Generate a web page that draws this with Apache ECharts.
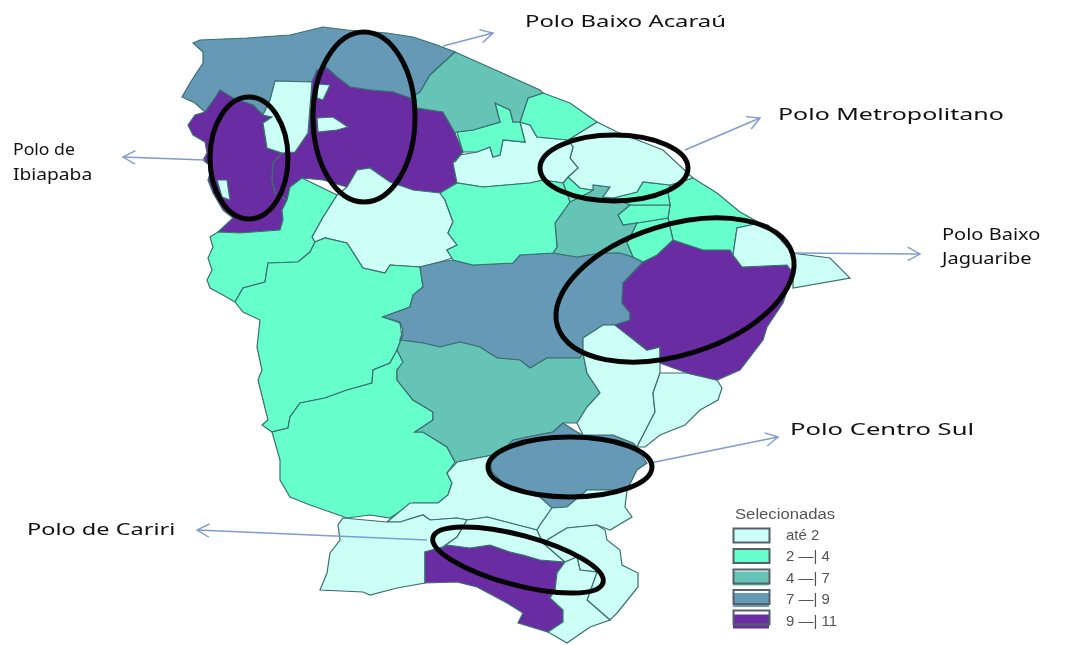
<!DOCTYPE html>
<html><head><meta charset="utf-8">
<style>html,body{margin:0;padding:0;background:#fff}#c{width:1065px;height:645px}#c canvas{filter:blur(.5px)}</style>
<script src="https://cdn.jsdelivr.net/npm/echarts@6/dist/echarts.min.js"></script>
</head><body><div id="c"></div>
<script>
// Data: class value per region
const regionNames = ['Litoral Norte','Ibiapaba','Sobral','Ipu','Ponto A','Ponto B','Ponto C','Sertao Norte','Crateus Norte','Crateus','Inhamuns','Sertao Central','Sertao Sul','Centro Sul','Iguatu','Jaguaribe Sul','Russas Sul','Jaguaribe','Aracati Norte','Aracati','Cascavel','Pacajus','Horizonte','Baturite','Sliver','Metropolitana','Itapipoca','Acarau Leste','Uruburetama','Litoral Oeste','Cariri Oeste','Cariri','Crato','Salgado','Barbalha','Brejo Santo','Caninde'];
const regionValues = [8,10,10,1,1,1,1,1,3,3,3,8,6,8,1,1,1,10,3,1,3,3,3,6,3,1,1,3,3,6,1,10,1,1,1,1,3];
const classLabels = ['até 2','2 —| 4','4 —| 7','7 —| 9','9 —| 11'];
const classBreaks = [2,4,7,9,11];
const classColors = ['#ccfff5','#66ffcc','#66c4b6','#6699b5','#6a2ca3'];
const regionOutlines = [
[[193,43],[200,40],[247,38],[290,35],[323,27],[347,30],[387,33],[413,37],[437,45],[455,52],[430,75],[420,92],[410,98],[393,92],[370,90],[350,87],[337,77],[327,68],[317,70],[312,82],[275,81],[270,100],[263,115],[253,105],[233,98],[220,90],[215,98],[205,112],[195,103],[182,97],[190,83],[203,63],[203,52]],
[[220,90],[215,98],[205,112],[195,115],[188,125],[193,135],[205,142],[207,153],[203,160],[212,167],[208,180],[213,193],[223,210],[233,218],[218,232],[240,233],[280,230],[283,220],[282,210],[287,200],[275,193],[272,180],[273,163],[282,153],[267,148],[263,123],[272,117],[263,115],[253,105],[233,98]],
[[327,68],[337,77],[350,87],[370,90],[393,92],[410,98],[417,108],[443,112],[455,133],[463,152],[453,163],[457,183],[440,193],[413,190],[390,182],[370,168],[357,170],[347,187],[323,180],[302,178],[290,187],[287,200],[275,193],[272,180],[273,163],[282,153],[295,152],[308,133],[312,82],[317,70]],
[[275,81],[312,82],[308,133],[295,152],[282,153],[267,148],[263,123],[272,117],[263,115],[270,100]],
[[318,84],[330,85],[323,100],[317,98]],
[[317,118],[333,117],[348,127],[337,130],[318,132]],
[[217,180],[227,180],[230,200],[222,197]],
[[347,187],[357,170],[370,168],[390,182],[413,190],[440,193],[445,200],[453,222],[448,233],[457,245],[447,250],[452,258],[440,262],[420,267],[390,265],[385,273],[363,268],[347,243],[325,238],[315,242],[312,237],[323,217],[337,195]],
[[218,232],[240,233],[280,230],[283,220],[282,210],[287,200],[290,187],[302,178],[337,195],[323,217],[312,237],[315,242],[310,252],[298,262],[268,263],[265,282],[243,288],[235,302],[223,295],[210,288],[207,280],[212,270],[208,258],[213,247],[210,237]],
[[268,263],[298,262],[310,252],[315,242],[325,238],[347,243],[363,268],[385,273],[390,265],[420,267],[422,280],[423,287],[413,295],[410,307],[383,317],[400,323],[402,337],[397,350],[390,363],[373,370],[372,383],[347,390],[325,398],[300,403],[290,417],[288,428],[272,432],[262,425],[268,420],[258,380],[262,370],[257,347],[260,320],[243,312],[235,302],[243,288],[265,282]],
[[397,350],[403,362],[397,370],[397,380],[413,400],[433,412],[433,420],[415,432],[423,432],[447,447],[455,462],[447,473],[452,483],[448,495],[438,503],[413,503],[390,518],[370,515],[347,518],[333,513],[310,505],[290,497],[280,480],[280,460],[272,432],[288,428],[290,417],[300,403],[325,398],[347,390],[372,383],[373,370],[390,363]],
[[420,267],[440,262],[453,260],[473,265],[513,263],[520,255],[553,253],[577,257],[600,253],[620,253],[633,257],[643,262],[623,283],[622,303],[630,313],[630,320],[615,325],[603,325],[583,338],[583,353],[580,358],[547,358],[530,368],[520,360],[497,358],[480,347],[460,342],[440,347],[423,343],[400,340],[403,330],[400,322],[383,317],[410,307],[413,295],[423,287],[422,280]],
[[400,340],[423,343],[440,347],[460,342],[480,347],[497,358],[520,360],[530,368],[547,358],[580,358],[583,353],[587,373],[600,393],[587,407],[577,423],[563,423],[553,432],[527,437],[493,455],[457,462],[455,462],[447,447],[423,432],[415,432],[433,420],[433,412],[413,400],[397,380],[397,370],[403,362],[397,350],[402,337]],
[[553,432],[563,423],[577,432],[583,435],[613,435],[633,443],[647,463],[637,470],[627,490],[587,490],[567,507],[552,508],[540,497],[510,490],[493,477],[490,463],[513,440],[527,437]],
[[457,462],[493,455],[490,470],[510,490],[540,497],[552,508],[540,525],[537,530],[487,517],[467,520],[457,518],[430,520],[423,515],[400,522],[387,522],[410,503],[438,503],[448,495],[452,483],[447,473]],
[[583,338],[603,325],[615,325],[647,350],[660,347],[660,373],[653,393],[655,412],[637,447],[633,443],[613,435],[583,435],[577,423],[587,407],[600,393],[587,373],[583,353]],
[[660,373],[687,373],[717,380],[722,388],[718,400],[700,410],[685,425],[660,435],[645,447],[637,447],[655,412],[653,393]],
[[673,240],[703,250],[730,250],[733,255],[742,267],[787,265],[793,273],[783,303],[767,327],[763,340],[740,370],[717,380],[687,373],[660,363],[660,347],[647,350],[615,325],[630,320],[630,313],[622,303],[623,283],[643,262],[657,255]],
[[693,178],[717,193],[740,212],[760,223],[737,228],[733,255],[730,250],[703,250],[673,240],[670,227],[668,218],[670,205],[668,193],[670,185]],
[[760,223],[768,225],[792,253],[830,258],[850,278],[793,288],[793,273],[787,265],[742,267],[733,255],[737,228]],
[[627,243],[637,223],[668,218],[670,227],[673,240],[657,255],[643,262],[633,257]],
[[618,215],[630,205],[670,205],[668,218],[637,223],[623,225]],
[[643,182],[670,185],[668,193],[670,205],[630,205],[613,198],[637,192]],
[[570,202],[590,192],[593,185],[610,187],[603,197],[613,198],[630,205],[618,215],[623,225],[637,223],[627,243],[633,257],[620,253],[600,253],[577,257],[553,253],[557,247],[555,223]],
[[563,183],[568,177],[580,188],[593,190],[590,192],[570,202]],
[[610,187],[593,185],[593,190],[580,188],[568,177],[578,168],[570,158],[573,147],[568,140],[597,122],[617,132],[663,150],[693,178],[670,185],[643,182],[637,192],[613,198],[603,197]],
[[455,162],[460,155],[477,152],[490,147],[493,157],[500,155],[503,140],[525,142],[520,122],[530,125],[537,137],[568,140],[573,147],[570,158],[578,168],[568,177],[563,183],[543,180],[530,183],[483,187],[457,183],[453,163],[463,152]],
[[543,93],[570,103],[597,122],[568,140],[537,137],[530,125],[520,122],[528,98]],
[[457,132],[473,130],[500,122],[495,103],[510,110],[513,122],[520,122],[525,142],[503,140],[500,155],[493,157],[490,147],[477,152],[463,152]],
[[455,52],[500,72],[540,90],[543,93],[528,98],[520,122],[513,122],[510,110],[495,103],[500,122],[473,130],[457,132],[455,133],[443,112],[417,108],[410,98],[420,92],[430,75]],
[[343,518],[387,522],[400,522],[423,515],[430,520],[457,518],[467,520],[457,537],[443,547],[425,552],[425,583],[397,588],[370,595],[363,592],[320,590],[327,573],[330,553],[340,540],[338,525]],
[[425,552],[443,547],[447,545],[470,548],[490,545],[510,552],[523,555],[540,560],[565,562],[557,573],[555,590],[550,598],[563,610],[563,622],[548,632],[518,623],[523,613],[507,603],[477,587],[457,582],[425,583]],
[[467,520],[487,517],[537,530],[543,543],[565,562],[540,560],[523,555],[510,552],[490,545],[470,548],[447,545],[443,547],[457,537]],
[[552,508],[567,507],[587,490],[627,490],[625,507],[632,517],[610,530],[597,525],[567,528],[552,537],[543,543],[537,530],[540,525]],
[[543,543],[552,537],[567,528],[597,525],[605,530],[607,540],[620,550],[622,565],[638,573],[638,587],[617,613],[610,620],[587,600],[597,572],[580,570],[577,557],[565,562]],
[[565,562],[577,557],[580,570],[597,572],[587,600],[610,620],[590,627],[567,643],[548,632],[563,622],[563,610],[550,598],[555,590],[557,573]],
[[440,193],[457,183],[483,187],[530,183],[543,180],[563,183],[570,202],[555,223],[557,247],[553,253],[520,255],[513,263],[473,265],[453,260],[447,250],[457,245],[448,233],[453,222],[445,200]]
];
const ellipses = [[249,158,39,61,0],[364,117,51,85,0],[614,168,74,33,0],[675,290,123,65,0.3],[570,467,82,30,0],[518,560,88,25,-0.26]];
const arrows = [[443,46,493,33],[205,160,123,157],[685,150,760,118],[793,253,920,254],[650,463,778,437],[427,540,197,530]];
const annotations = [['Polo Baixo Acaraú',525,22],['Polo Metropolitano',778,115],['Polo de',13,150],['Ibiapaba',13,175],['Polo Baixo',942,235],['Jaguaribe',942,259],['Polo Centro Sul',790,430],['Polo de Cariri',27,530]];
const annotationStretch = [1.49,1.56,1.1,1.2,1.25,1.25,1.6,1.47];

const features = regionNames.map((name,i)=>({type:'Feature',properties:{name},geometry:{type:'Polygon',coordinates:[regionOutlines[i].concat([regionOutlines[i][0]]).map(p=>[p[0],-p[1]])]}}));
echarts.registerMap('ceara',{type:'FeatureCollection',features});

const chart = echarts.init(document.getElementById('c'));
const arrowColor='#7f9ccc';
const graphics=[];
arrows.forEach(a=>{
  graphics.push({type:'line',z:10,shape:{x1:a[0],y1:a[1],x2:a[2],y2:a[3]},style:{stroke:arrowColor,lineWidth:1.4}});
  const ang=Math.atan2(a[3]-a[1],a[2]-a[0]),L=14,s=0.5;
  graphics.push({type:'polyline',z:10,shape:{points:[[a[2]-L*Math.cos(ang-s),a[3]-L*Math.sin(ang-s)],[a[2],a[3]],[a[2]-L*Math.cos(ang+s),a[3]-L*Math.sin(ang+s)]]},style:{stroke:arrowColor,lineWidth:1.4,fill:null}});
});
ellipses.forEach(e=>graphics.push({type:'ellipse',z:11,x:e[0],y:e[1],rotation:e[4],shape:{cx:0,cy:0,rx:e[2],ry:e[3]},style:{stroke:'#050505',lineWidth:5,fill:null}}));
annotations.forEach((t,i)=>graphics.push({type:'text',z:12,x:t[1],y:t[2],scaleX:annotationStretch[i],style:{text:t[0],fill:'#111',font:'16px "Noto Sans"',verticalAlign:'middle'}}));
graphics.push({type:'text',z:12,x:735,y:515,scaleX:1.19,style:{text:'Selecionadas',fill:'#555',font:'14px "Liberation Sans"',verticalAlign:'middle'}});
classLabels.forEach((l,i)=>graphics.push({type:'rect',z:12,shape:{x:733.5,y:528.5+i*20.5,width:36,height:14},style:{stroke:'#55606a',lineWidth:2,fill:null}}));

chart.setOption({
  animation:false,
  backgroundColor:'#fff',
  visualMap:{type:'piecewise',orient:'vertical',left:718,top:513,itemWidth:36,itemHeight:14,itemGap:6.5,textGap:17,inverse:true,align:'left',itemSymbol:'rect',hoverLink:false,selectedMode:false,
    pieces:classLabels.map((label,i)=>({gt:i?classBreaks[i-1]:0,lte:classBreaks[i],label,color:classColors[i]})),
    textStyle:{color:'#555',fontFamily:'Liberation Sans',fontSize:15},seriesIndex:0},
  graphic:graphics,
  series:[{type:'map',map:'ceara',aspectScale:1,left:0,top:0,width:1065,height:645,boundingCoords:[[0,0],[1065,-645]],roam:false,silent:true,
    label:{show:false},emphasis:{disabled:true},select:{disabled:true},
    itemStyle:{borderColor:'#3a6f70',borderWidth:1.2},
    data:regionNames.map((name,i)=>({name,value:regionValues[i]}))}]
});
</script></body></html>
